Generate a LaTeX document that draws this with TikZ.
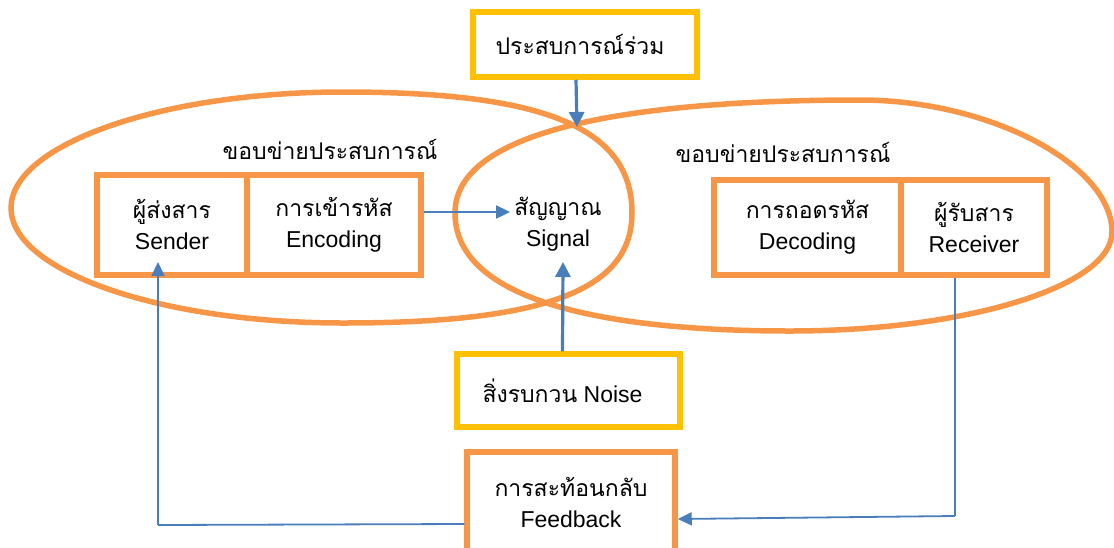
\documentclass[tikz,border=0pt]{standalone}
\usepackage{fontspec}
\setmainfont{Liberation Sans}
\newfontfamily\thai[Script=Thai]{Loma}
\usetikzlibrary{arrows.meta}

\definecolor{fieldorange}{HTML}{F79646}
\definecolor{noteyellow}{HTML}{FFC000}
\definecolor{linkblue}{HTML}{4A7EBB}

\tikzset{
  field/.style={draw=fieldorange, line width=5.5pt},
  stagebox/.style={draw=fieldorange, line width=5.5pt, fill=white, inner sep=0pt,
    align=center, font=\fontsize{23}{31}\selectfont},
  notebox/.style={draw=noteyellow, line width=5.5pt, fill=white, inner sep=0pt,
    align=center, font=\fontsize{23}{31}\selectfont},
  label/.style={inner sep=0pt, align=center, font=\fontsize{23}{31}\selectfont},
  thickarrow/.style={draw=linkblue, line width=3.2pt, -{Triangle[length=15pt,width=15pt]}},
  midarrow/.style={draw=linkblue, line width=2.4pt, -{Triangle[length=14pt,width=13pt]}},
  thinarrow/.style={draw=linkblue, line width=1.8pt, -{Triangle[length=14pt,width=13pt]}},
  thinline/.style={draw=linkblue, line width=1.8pt},
}

\begin{document}
\begin{tikzpicture}[x=1pt,y=-1pt]
\useasboundingbox (0,0) rectangle (1114,547);
\clip (0,0) rectangle (1114,547);

% sender's field of experience
\draw[field] (11,208)
  .. controls (11,145) and (160,92) .. (343,92)
  .. controls (545,92) and (632,128) .. (632,213)
  .. controls (632,290) and (545,323) .. (343,323)
  .. controls (160,323) and (11,271) .. cycle;

% receiver's field of experience
\draw[field] (455,213)
  .. controls (455,133) and (617,100) .. (860,100)
  .. controls (990,100) and (1112,165) .. (1112,232)
  .. controls (1112,286) and (967,331) .. (790,331)
  .. controls (589,331) and (455,296) .. cycle;

% field labels
\node[label] (fieldL) at (330,149) {\thai ขอบข่ายประสบการณ์};
\node[label] (fieldR) at (783,152) {\thai ขอบข่ายประสบการณ์};

% sender side
\node[stagebox, minimum width=150pt, minimum height=100pt] (snd) at (172,225)
  {{\thai ผู้ส่งสาร}\\Sender};
\node[stagebox, minimum width=174pt, minimum height=100pt] (enc) at (334,225)
  {{\thai การเข้ารหัส}\\Encoding};

% receiver side
\node[stagebox, minimum width=187pt, minimum height=95pt] (dec) at (807.5,227.5)
  {{\thai การถอดรหัส}\\Decoding};
\node[stagebox, minimum width=146pt, minimum height=95pt] (rcv) at (974,227.5)
  {{\thai ผู้รับสาร}\\Receiver};

% message in the shared region
\node[label] (sig) at (558,224) {{\thai สัญญาณ}\\Signal};
\coordinate (sigin) at (510,212);
\coordinate (sigbelow) at (563,262);
\coordinate (overlap) at (577,127);

% common experience and noise
\node[notebox, minimum width=224pt, minimum height=65pt] (exp) at (585,44.5)
  {{\thai ประสบการณ์ร่วม}\hspace*{10pt}};
\node[notebox, minimum width=223pt, minimum height=73pt] (noise) at (568.5,390.5)
  {{\thai สิ่งรบกวน} Noise\hspace*{12pt}};

% feedback
\node[stagebox, minimum width=208pt, minimum height=102pt] (fb) at (571,503)
  {{\thai การสะท้อนกลับ}\\Feedback};

% connectors
\draw[thickarrow] ([xshift=-9pt]exp.south) -- (overlap);
\draw[midarrow] ([yshift=13pt]enc.east) -- (sigin);
\draw[thickarrow] ([xshift=-6pt]noise.north) -- (sigbelow);

\coordinate (rcvdown) at (955,516);
\draw[thinline] ([xshift=-19pt]rcv.south) -- (rcvdown);
\draw[thinarrow] (rcvdown) -- ([yshift=-16pt]fb.east);

\coordinate (fbleft) at (158,525);
\coordinate (sndin) at (158,262);
\draw[thinline] ([yshift=-21pt]fb.west) -- (fbleft);
\draw[thinarrow] (fbleft) -- (sndin);
\end{tikzpicture}
\end{document}
